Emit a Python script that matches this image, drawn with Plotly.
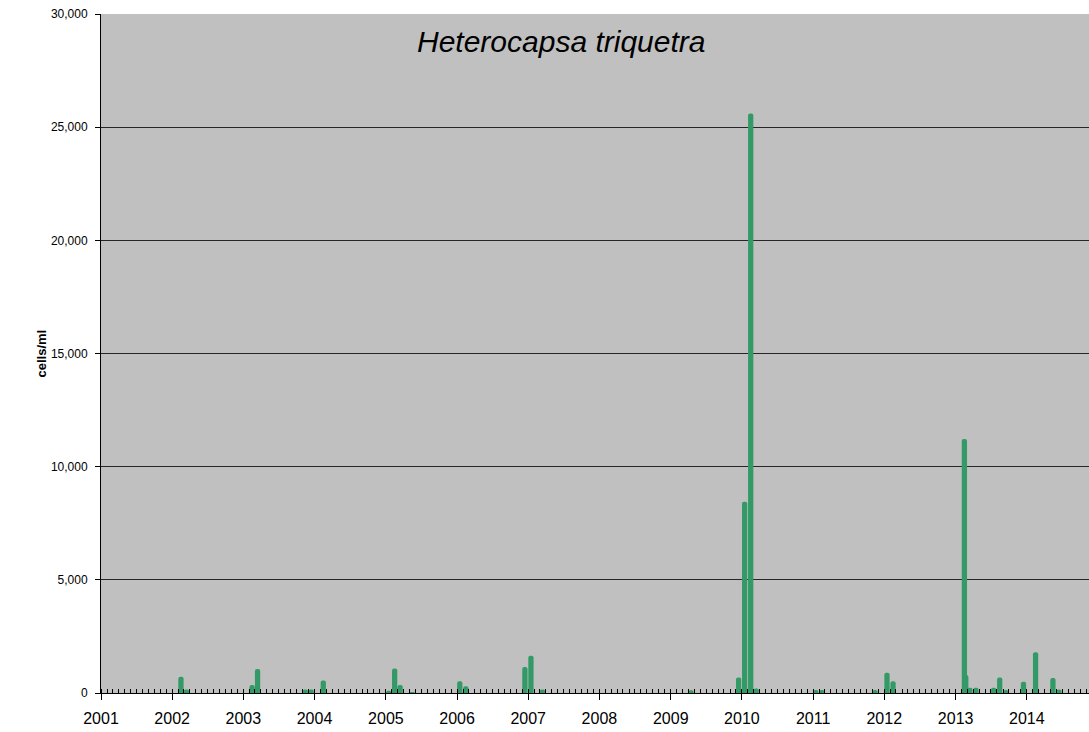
import plotly.graph_objects as go

# Monthly counts of Heterocapsa triquetra (cells/ml), one entry per sampled month
sample_months = [
    "2002-02-15", "2002-03-15",
    "2003-02-15", "2003-03-15", "2003-11-15", "2003-12-15",
    "2004-02-15",
    "2005-01-15", "2005-02-15", "2005-03-15", "2005-05-15",
    "2006-01-15", "2006-02-15", "2006-12-15",
    "2007-01-15", "2007-03-15",
    "2009-04-15", "2009-12-15",
    "2010-01-15", "2010-02-15", "2010-03-15",
    "2011-01-15", "2011-02-15", "2011-11-15",
    "2012-01-15", "2012-02-15",
    "2013-02-22", "2013-02-15", "2013-03-15", "2013-04-15",
    "2013-07-15", "2013-08-15", "2013-09-15", "2013-12-15",
    "2014-02-15", "2014-05-15", "2014-06-15",
]
cells_per_ml = [
    720, 150,
    350, 1060, 150, 150,
    550,
    100, 1080, 350, 40,
    520, 300, 1150,
    1650, 150,
    120, 680,
    8450, 25600, 200,
    130, 130, 130,
    900, 520,
    790, 11220, 235, 235,
    235, 680, 130, 500,
    1800, 660, 160,
]

y_ticks = [0, 5000, 10000, 15000, 20000, 25000, 30000]
year_ticks = [f"{y}-01-01" for y in range(2001, 2015)]
year_labels = [str(y) for y in range(2001, 2015)]

BAR_DAYS = 27
bar_width_ms = BAR_DAYS * 24 * 3600 * 1000

fig = go.Figure(
    go.Bar(
        x=sample_months,
        y=cells_per_ml,
        width=[bar_width_ms] * len(sample_months),
        marker=dict(color="#339966", line=dict(width=0)),
        hoverinfo="x+y",
    )
)

font_family = "Liberation Sans, Arial, sans-serif"

fig.update_layout(
    width=1089,
    height=732,
    margin=dict(l=101, r=0, t=14, b=39),
    paper_bgcolor="white",
    plot_bgcolor="#C0C0C0",
    barmode="overlay",
    barcornerradius=2,
    showlegend=False,
    font=dict(family=font_family, size=14, color="black"),
    xaxis=dict(
        type="date",
        range=["2001-01-01", "2014-11-16"],
        tickvals=year_ticks,
        ticktext=year_labels,
        ticks="outside",
        ticklen=6,
        tickwidth=1,
        tickcolor="black",
        ticklabelstandoff=5,
        showline=True,
        linecolor="black",
        linewidth=1,
        showgrid=False,
        zeroline=False,
        minor=dict(
            dtick="M1",
            ticks="inside",
            ticklen=4,
            tickwidth=1,
            tickcolor="black",
            showgrid=False,
        ),
        tickfont=dict(size=16),
    ),
    yaxis=dict(
        range=[0, 30000],
        tickvals=y_ticks,
        tickformat=",d",
        ticks="outside",
        ticklen=5,
        tickwidth=1,
        tickcolor="black",
        ticklabelstandoff=5,
        showline=True,
        linecolor="black",
        linewidth=1,
        showgrid=True,
        gridcolor="#262626",
        gridwidth=1,
        zeroline=False,
        tickfont=dict(size=12),
    ),
    annotations=[
        dict(
            text="<i>Heterocapsa triquetra</i>",
            xref="paper",
            yref="paper",
            x=0.4656,
            y=0.9588,
            xanchor="center",
            yanchor="middle",
            showarrow=False,
            font=dict(size=30, family=font_family, color="black"),
        ),
        # y-axis title, placed just left of the tick labels
        dict(
            text="<b>cells/ml</b>",
            xref="paper",
            yref="paper",
            x=-0.0607,
            y=0.5,
            xanchor="center",
            yanchor="middle",
            textangle=-90,
            showarrow=False,
            font=dict(size=13, family=font_family, color="black"),
        ),
    ],
)

fig.write_html("out.html")
